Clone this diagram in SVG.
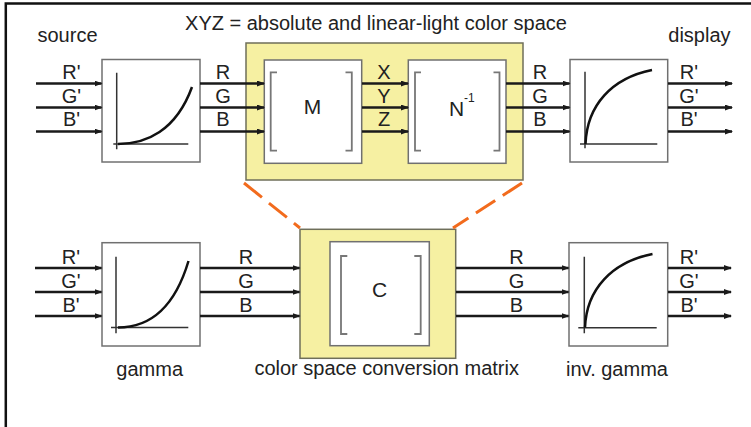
<svg xmlns="http://www.w3.org/2000/svg" width="751" height="427" viewBox="0 0 751 427">
<defs>
<marker id="ah" markerWidth="8" markerHeight="6" refX="7" refY="3" orient="auto" markerUnits="userSpaceOnUse">
<path d="M0,0 L8,3 L0,6 Z" fill="#1a1a1a"/>
</marker>
<style>
text{font-family:"Liberation Sans",Arial,sans-serif;font-size:20px;fill:#222}
.lbl{text-anchor:middle}
.box{fill:#fff;stroke:#707070;stroke-width:1.5}
.yel{fill:#f6f0a2;stroke:#6f6f5a;stroke-width:1.5}
.axis{fill:none;stroke:#333;stroke-width:1.5}
.curve{fill:none;stroke:#111;stroke-width:2.5}
.brk{fill:none;stroke:#777;stroke-width:1.8}
.arr{stroke:#1a1a1a;stroke-width:2.5;marker-end:url(#ah)}
.dash{stroke:#f26b1d;stroke-width:3;stroke-dasharray:23 9;fill:none}
.big{font-size:21px;text-anchor:middle}
</style>
</defs>
<rect width="751" height="427" fill="#fff"/>
<path d="M5.8,427 L5.8,3.5 L751,3.5" fill="none" stroke="#111" stroke-width="2.5"/>

<text x="37.5" y="41.7">source</text>
<text x="668.3" y="41.7">display</text>
<text x="376" y="30" class="lbl">XYZ = absolute and linear-light color space</text>

<g id="xyz-space">
<rect class="yel" x="246" y="43" width="277" height="137"/>
</g>
<g id="src-gamma">
<rect class="box" x="102" y="59.5" width="98" height="102.5"/>
<path class="axis" d="M116.7,72.7 V149.3 M113.3,144 H188.3"/>
<path class="curve" d="M118,144 C146,144 176,131 192,87"/>
</g>
<g id="matrix-m">
<rect class="box" x="264.3" y="60" width="97.4" height="103.3"/>
<path class="brk" d="M277,72.3 H270.7 V150.7 H277 M345.5,72.3 H351.8 V150.7 H345.5"/>
<text x="312.5" y="114" class="big">M</text>
</g>
<g id="matrix-n">
<rect class="box" x="408.3" y="60" width="97.7" height="103.3"/>
<path class="brk" d="M421,72.3 H415 V150.7 H421 M493.5,72.3 H499.5 V150.7 H493.5"/>
<text x="449" y="115.5" style="font-size:21px">N</text>
<text x="464" y="102" style="font-size:12px">-1</text>
</g>
<g id="disp-gamma">
<rect class="box" x="570" y="59.5" width="97.7" height="102.5"/>
<path class="axis" d="M585,71.7 V148.3 M580,144 H657.3"/>
<path class="curve" d="M585.5,144 C587,105 612,78 652,70"/>
</g>

<g id="conv-matrix">
<rect class="yel" x="300" y="229.3" width="155.7" height="129"/>
<rect class="box" x="330" y="241.7" width="99.3" height="104"/>
<path class="brk" d="M347.3,256 H341 V334 H347.3 M414.3,256 H420.7 V334 H414.3"/>
<text x="379.7" y="297.3" class="big">C</text>
<text x="386.7" y="375" class="lbl">color space conversion matrix</text>
</g>
<g id="gamma">
<rect class="box" x="102" y="242.7" width="98" height="103.3"/>
<path class="axis" d="M116,256.7 V333.3 M111,327.5 H188.3"/>
<path class="curve" d="M118,327.5 C146,327.5 173,313 188.5,261"/>
<text x="149.7" y="376" class="lbl">gamma</text>
</g>
<g id="inv-gamma">
<rect class="box" x="569" y="242.7" width="98.7" height="103.3"/>
<path class="axis" d="M584.3,256.7 V333.3 M578.3,327.7 H656.7"/>
<path class="curve" d="M585,327.5 C586.5,289 612,262 652.5,254"/>
<text x="617" y="376" class="lbl">inv. gamma</text>
</g>

<g id="connectors">
<line class="dash" x1="244" y1="183" x2="300" y2="228"/>
<line class="dash" x1="522" y1="183" x2="453" y2="228"/>

<line class="arr" x1="36" y1="83.5" x2="101.5" y2="83.5"/>
<line class="arr" x1="36" y1="107.5" x2="101.5" y2="107.5"/>
<line class="arr" x1="36" y1="131.5" x2="101.5" y2="131.5"/>
<line class="arr" x1="200" y1="83.5" x2="264" y2="83.5"/>
<line class="arr" x1="200" y1="107.5" x2="264" y2="107.5"/>
<line class="arr" x1="200" y1="131.5" x2="264" y2="131.5"/>
<line class="arr" x1="362" y1="83.5" x2="408" y2="83.5"/>
<line class="arr" x1="362" y1="107.5" x2="408" y2="107.5"/>
<line class="arr" x1="362" y1="131.5" x2="408" y2="131.5"/>
<line class="arr" x1="506" y1="83.5" x2="569.5" y2="83.5"/>
<line class="arr" x1="506" y1="107.5" x2="569.5" y2="107.5"/>
<line class="arr" x1="506" y1="131.5" x2="569.5" y2="131.5"/>
<line class="arr" x1="668" y1="83.5" x2="732" y2="83.5"/>
<line class="arr" x1="668" y1="107.5" x2="732" y2="107.5"/>
<line class="arr" x1="668" y1="131.5" x2="732" y2="131.5"/>

<line class="arr" x1="35" y1="268" x2="101.5" y2="268"/>
<line class="arr" x1="35" y1="292" x2="101.5" y2="292"/>
<line class="arr" x1="35" y1="316" x2="101.5" y2="316"/>
<line class="arr" x1="200" y1="268" x2="299.5" y2="268"/>
<line class="arr" x1="200" y1="292" x2="299.5" y2="292"/>
<line class="arr" x1="200" y1="316" x2="299.5" y2="316"/>
<line class="arr" x1="456" y1="268" x2="568.5" y2="268"/>
<line class="arr" x1="456" y1="292" x2="568.5" y2="292"/>
<line class="arr" x1="456" y1="316" x2="568.5" y2="316"/>
<line class="arr" x1="668" y1="268" x2="731" y2="268"/>
<line class="arr" x1="668" y1="292" x2="731" y2="292"/>
<line class="arr" x1="668" y1="316" x2="731" y2="316"/>

<text x="71.5" y="79" class="lbl">R'</text>
<text x="71.5" y="102.5" class="lbl">G'</text>
<text x="71.5" y="126" class="lbl">B'</text>
<text x="223" y="79" class="lbl">R</text>
<text x="223" y="102.5" class="lbl">G</text>
<text x="223" y="126" class="lbl">B</text>
<text x="384" y="79" class="lbl">X</text>
<text x="384" y="102.5" class="lbl">Y</text>
<text x="384" y="126" class="lbl">Z</text>
<text x="540" y="79" class="lbl">R</text>
<text x="540" y="102.5" class="lbl">G</text>
<text x="540" y="126" class="lbl">B</text>
<text x="689" y="79" class="lbl">R'</text>
<text x="689" y="102.5" class="lbl">G'</text>
<text x="689" y="126" class="lbl">B'</text>

<text x="71" y="263.5" class="lbl">R'</text>
<text x="71" y="287.5" class="lbl">G'</text>
<text x="71" y="311.5" class="lbl">B'</text>
<text x="246" y="263.5" class="lbl">R</text>
<text x="246" y="287.5" class="lbl">G</text>
<text x="246" y="311.5" class="lbl">B</text>
<text x="516.5" y="263.5" class="lbl">R</text>
<text x="516.5" y="287.5" class="lbl">G</text>
<text x="516.5" y="311.5" class="lbl">B</text>
<text x="689" y="263.5" class="lbl">R'</text>
<text x="689" y="287.5" class="lbl">G'</text>
<text x="689" y="311.5" class="lbl">B'</text>
</g>
</svg>
